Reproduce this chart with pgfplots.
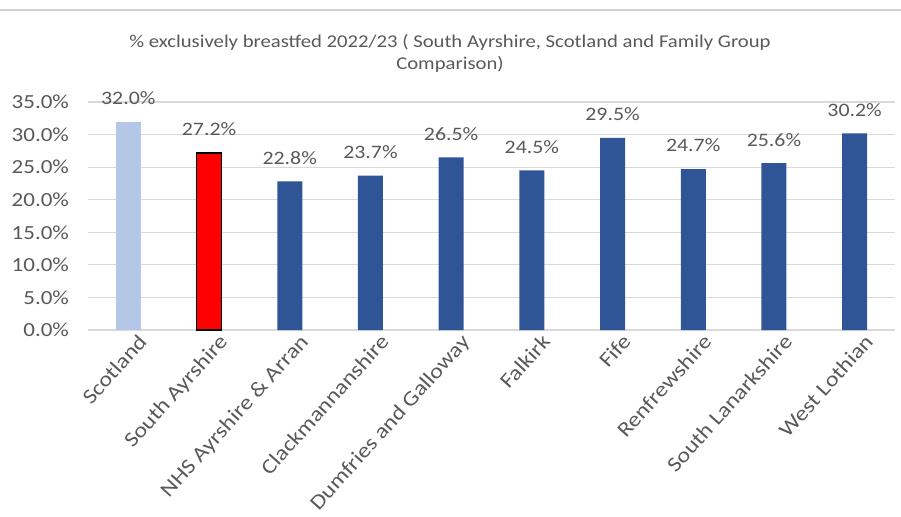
\documentclass[border=0pt]{standalone}
\usepackage{fontspec}
\setmainfont{Carlito}[FakeStretch=1.15]
\usepackage{pgfplots}
\pgfplotsset{compat=1.18}
\definecolor{lblue}{HTML}{B4C7E7}
\definecolor{dblue}{HTML}{2F5597}
\definecolor{txt}{HTML}{595959}
\begin{document}
\begin{tikzpicture}
\path[use as bounding box] (-44pt,-93pt) rectangle (406.5pt,165pt);
\draw[gray!35, line width=0.8pt] (-44pt,160pt) -- (406.5pt,160pt);
\begin{axis}[
  at={(0,0)}, anchor=south west,
  scale only axis, width=403.5pt, height=114pt,
  xmin=-0.5, xmax=9.5, ymin=0, ymax=35,
  /pgf/number format/assume math mode=true,
  ytick={0,5,...,35},
  yticklabel={\pgfmathprintnumber[fixed,fixed zerofill,precision=1]{\tick}\%},
  yticklabel style={font=\fontsize{10}{11}\selectfont, text=txt, xshift=-6pt},
  xtick={0,...,9},
  xticklabels={Scotland, South Ayrshire, NHS Ayrshire \& Arran, Clackmannanshire, Dumfries and Galloway, Falkirk, Fife, Renfrewshire, South Lanarkshire, West Lothian},
  xticklabel style={rotate=48, anchor=north east, font=\fontsize{10.5}{11}\selectfont, text=txt, inner sep=1pt, yshift=-3pt, xshift=3pt},
  axis line style={draw=none},
  major tick length=0pt,
  ymajorgrids,
  grid style={draw=gray!30, line width=0.6pt},
  nodes near coords={\pgfmathprintnumber[fixed,fixed zerofill,precision=1]{\pgfplotspointmeta}\%},
  nodes near coords style={font=\fontsize{9.5}{11}\selectfont, text=txt, anchor=south, yshift=5pt},
  clip=false,
]
\addplot[ybar, bar width=12.5pt, bar shift=0pt, fill=lblue, draw=none] coordinates {(0,32.0)};
\addplot[ybar, bar width=12.5pt, bar shift=0pt, fill=red, draw=black, line width=0.8pt] coordinates {(1,27.2)};
\addplot[ybar, bar width=12.5pt, bar shift=0pt, fill=dblue, draw=none] coordinates {(2,22.8) (3,23.7) (4,26.5) (5,24.5) (6,29.5) (7,24.7) (8,25.6) (9,30.2)};
\end{axis}
\node[align=center, font=\fontsize{9}{11}\selectfont, text=txt] at (181pt,138.5pt) {\% exclusively breastfed 2022/23 ( South Ayrshire, Scotland and Family Group\\Comparison)};
\end{tikzpicture}
\end{document}
